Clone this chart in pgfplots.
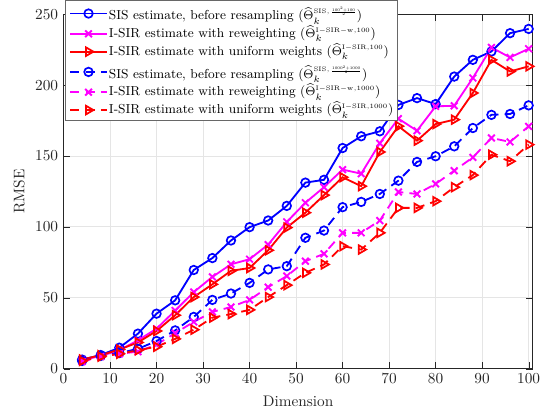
\documentclass[border=0pt]{standalone}
\usepackage{pgfplots}
\pgfplotsset{compat=1.18}
\usepackage{amsmath}
\usepackage{graphicx}
\definecolor{mblue}{rgb}{0,0,1}
\definecolor{mmag}{rgb}{1,0,1}
\definecolor{mred}{rgb}{1,0,0}
\definecolor{axgray}{rgb}{0.15,0.15,0.15}
\newcommand{\est}[1]{\smash{$\widehat{\Theta}_k^{\scalebox{0.85}{$\scriptscriptstyle #1$}}$}}
\newcommand{\fr}[2]{\scalebox{0.6}{$\scriptscriptstyle\frac{#1}{#2}$}}
\newcommand{\tallrow}{\rule{0pt}{9.5pt}}
\begin{document}
\begin{tikzpicture}
\begin{axis}[
  scale only axis,
  width=306.6pt, height=231.6pt,
  xmin=0, xmax=100.9, ymin=0, ymax=250,
  xtick={0,10,...,100}, ytick={0,50,...,250},
  xlabel={Dimension}, ylabel={RMSE},
  xlabel style={yshift=-1pt},
  grid=major,
  major grid style={color=gray!20, line width=0.5pt},
  axis line style={color=axgray, line width=0.5pt},
  tick style={color=axgray},
  tick align=inside,
  ticklabel style={color=axgray},
  label style={color=axgray},
  every axis plot/.append style={line width=1.2pt},
  legend cell align=left,
  legend style={at={(0.004,1.04)}, anchor=north west, draw=axgray!70, line width=0.7pt, fill=white, font=\fontsize{8.5}{10}\selectfont, inner sep=2.2pt, row sep=2.2pt, nodes={inner sep=0.8pt}},
  legend image code/.code={\draw[mark repeat=2,mark phase=2,#1] plot coordinates {(0cm,0cm) (0.42cm,0cm) (0.84cm,0cm)};},
]
\addplot[color=mblue, mark=o, mark size=2.8pt, mark options={solid, line width=1.1pt}] coordinates {
(4,6.4)(8,9.6)(12,14.8)(16,24.7)(20,38.8)(24,48.2)(28,69.6)(32,78)(36,90.4)(40,99.8)(44,104.5)(48,114.8)(52,131.2)(56,133.2)(60,155.6)(64,163.9)(68,167.4)(72,186)(76,190.8)(80,186.6)(84,206)(88,217.8)(92,223.7)(96,236.6)(100,239.6)};
\addlegendentry{\tallrow SIS estimate, before resampling (\est{\mathrm{SIS},\,\fr{100^2+100}{2}})}
\addplot[color=mmag, mark=x, mark size=3.1pt, mark options={solid, line width=1.25pt}] coordinates {
(4,6)(8,9)(12,13)(16,20)(20,28.2)(24,41)(28,54)(32,64.7)(36,73.6)(40,77.2)(44,87.5)(48,103.5)(52,117)(56,128)(60,140.4)(64,137.5)(68,159)(72,176.3)(76,167.8)(80,185)(84,185.4)(88,205)(92,226.5)(96,219.5)(100,225.6)};
\addlegendentry{I-SIR estimate with reweighting (\est{\mathrm{I-SIR-w},100})}
\addplot[color=mred, mark=triangle, mark size=3.2pt, mark options={solid, rotate=-90, line width=1.15pt}] coordinates {
(4,6.5)(8,9.5)(12,13.5)(16,18.5)(20,26.6)(24,37.7)(28,50.5)(32,59.5)(36,69)(40,71)(44,83.5)(48,99.5)(52,110)(56,122.4)(60,135)(64,128.7)(68,152.8)(72,171)(76,160.8)(80,172.5)(84,175.6)(88,194.4)(92,217.8)(96,209.6)(100,213.2)};
\addlegendentry{I-SIR estimate with uniform weights (\est{\mathrm{I-SIR},100})}
\addplot[color=mblue, dash pattern=on 6pt off 4pt, mark=o, mark size=2.8pt, mark options={solid, line width=1.1pt}] coordinates {
(4,5.5)(8,9)(12,11)(16,14)(20,19.5)(24,27)(28,36.5)(32,48.5)(36,53)(40,60.5)(44,70)(48,72.3)(52,92.3)(56,97.4)(60,113.9)(64,117.6)(68,123.2)(72,132.6)(76,145.8)(80,149.8)(84,156.8)(88,169.7)(92,179)(96,179.6)(100,185.7)};
\addlegendentry{\tallrow SIS estimate, before resampling (\est{\mathrm{SIS},\,\fr{1000^2+1000}{2}})}
\addplot[color=mmag, dash pattern=on 6pt off 4pt, mark=x, mark size=3.1pt, mark options={solid, line width=1.25pt}] coordinates {
(4,5)(8,8.5)(12,10.5)(16,12)(20,17)(24,25)(28,33)(32,40)(36,43.5)(40,48.5)(44,57.5)(48,65.3)(52,75.8)(56,81)(60,95.8)(64,95.8)(68,104.5)(72,124.6)(76,123.2)(80,130.3)(84,139.6)(88,149)(92,162.7)(96,159.9)(100,170.9)};
\addlegendentry{I-SIR estimate with reweighting (\est{\mathrm{I-SIR-w},1000})}
\addplot[color=mred, dash pattern=on 6pt off 4pt, mark=triangle, mark size=3.2pt, mark options={solid, rotate=-90, line width=1.15pt}] coordinates {
(4,5.5)(8,8.5)(12,10.5)(16,13)(20,15.5)(24,21)(28,27.5)(32,36)(36,38.5)(40,41.5)(44,50.5)(48,58.9)(52,67.6)(56,73.5)(60,86.4)(64,84)(68,95.8)(72,113.4)(76,113.4)(80,118.1)(84,128)(88,136.5)(92,150.9)(96,146.3)(100,158)};
\addlegendentry{I-SIR estimate with uniform weights (\est{\mathrm{I-SIR},1000})}
\end{axis}
\path (current bounding box.west) ++(-5.5pt,0pt);
\path (current bounding box.east) ++(0.5pt,0pt);
\end{tikzpicture}
\end{document}
